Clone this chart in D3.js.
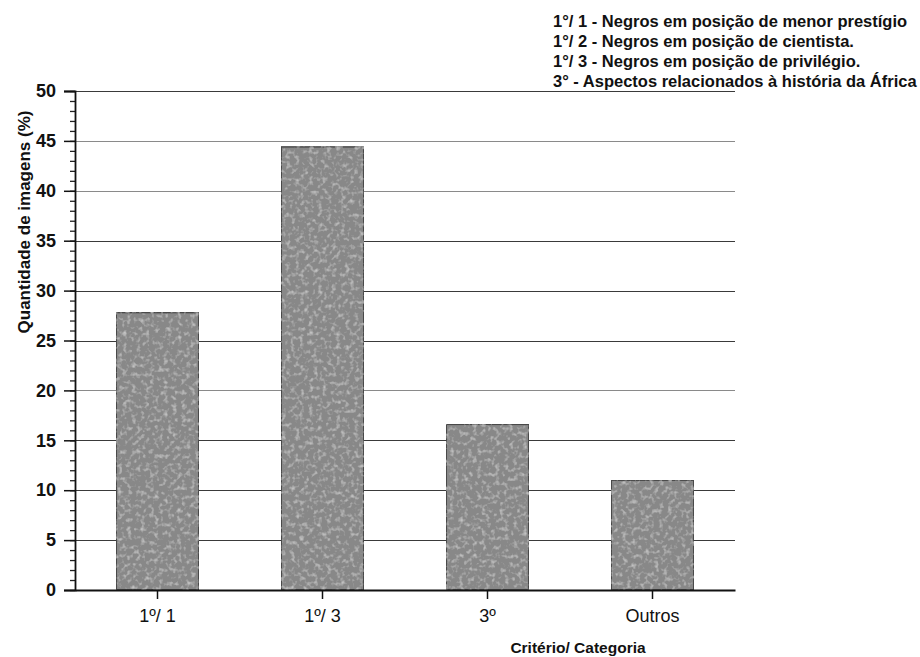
<!DOCTYPE html>
<html>
<head>
<meta charset="utf-8">
<script src="https://cdn.jsdelivr.net/npm/d3@7"></script>
<style>
  html, body { margin: 0; padding: 0; background: #fff; }
  svg { display: block; font-family: "Liberation Sans", Arial, sans-serif; }
</style>
</head>
<body>
<svg id="chart" width="920" height="657"></svg>
<script>
// Categories and their share of images (%)
const categories = ["1º/ 1", "1º/ 3", "3º", "Outros"];
const values = [27.8, 44.4, 16.6, 11.0];
const yTicks = [0, 5, 10, 15, 20, 25, 30, 35, 40, 45, 50];
const legendLines = [
  "1°/ 1 - Negros em posição de menor prestígio",
  "1°/ 2 - Negros em posição de cientista.",
  "1°/ 3 - Negros em posição de privilégio.",
  "3° - Aspectos relacionados à história da África"
];

const svg = d3.select("#chart");
const plot = { left: 75, right: 735, top: 91, bottom: 590 };

const x = d3.scaleBand().domain(categories).range([plot.left, plot.right])
  .paddingInner(0.5).paddingOuter(0.25);
const y = d3.scaleLinear().domain([0, 50]).range([plot.bottom, plot.top]);

// mottled grey texture for the bars
const defs = svg.append("defs");
const f = defs.append("filter").attr("id", "speckle")
  .attr("x", 0).attr("y", 0).attr("width", 1).attr("height", 1);
f.append("feTurbulence").attr("type", "fractalNoise")
  .attr("baseFrequency", 0.22).attr("numOctaves", 2).attr("seed", 7).attr("result", "noise");
f.append("feColorMatrix").attr("in", "noise").attr("type", "matrix")
  .attr("values", "0 0 0 0 0.66  0 0 0 0 0.66  0 0 0 0 0.66  0 0 0 1.8 -0.9")
  .attr("result", "spots");
f.append("feComposite").attr("in", "spots").attr("in2", "SourceGraphic")
  .attr("operator", "in").attr("result", "spotsIn");
f.append("feMerge").selectAll("feMergeNode")
  .data(["SourceGraphic", "spotsIn"]).join("feMergeNode").attr("in", d => d);

// horizontal gridlines
svg.append("g").selectAll("line")
  .data(yTicks.filter(d => d > 0))
  .join("line")
  .attr("x1", plot.left).attr("x2", plot.right)
  .attr("y1", d => Math.round(y(d)) + 0.5).attr("y2", d => Math.round(y(d)) + 0.5)
  .attr("stroke", d => (d === 45 || d === 40 || d === 20) ? "#8a8a8a" : "#3a3a3a")
  .attr("stroke-width", 1.2);

// bars
svg.append("g").selectAll("rect")
  .data(values)
  .join("rect")
  .attr("x", (d, i) => x(categories[i]))
  .attr("y", d => y(d))
  .attr("width", x.bandwidth())
  .attr("height", d => y(0) - y(d))
  .attr("fill", "#888888")
  .attr("stroke", "#4a4a4a")
  .attr("stroke-width", 1.5)
  .attr("filter", "url(#speckle)");

// y axis with minor ticks
const yAxisG = svg.append("g").attr("transform", `translate(${plot.left},0)`);
yAxisG.append("g")
  .call(d3.axisLeft(y).tickValues(d3.range(0, 51, 1)).tickSize(5).tickFormat(""))
  .call(g => g.select(".domain").remove())
  .selectAll("line").attr("stroke", "#222").attr("stroke-width", 1.3);
yAxisG.append("g")
  .call(d3.axisLeft(y).tickValues(yTicks).tickSize(11).tickPadding(8).tickFormat(d3.format("d")))
  .call(g => g.select(".domain").attr("stroke", "#111").attr("stroke-width", 1.8))
  .call(g => g.selectAll("line").attr("stroke", "#111").attr("stroke-width", 1.5))
  .call(g => g.selectAll("text")
    .attr("font-size", 18).attr("font-weight", "bold").attr("fill", "#111")
    .attr("font-family", "Liberation Sans, Arial, sans-serif"));

// x axis
svg.append("g").attr("transform", `translate(0,${plot.bottom})`)
  .call(d3.axisBottom(x).tickSize(9).tickSizeOuter(0).tickPadding(10))
  .call(g => g.select(".domain").attr("stroke", "#111").attr("stroke-width", 1.8))
  .call(g => g.selectAll("line").attr("stroke", "#111").attr("stroke-width", 1.5))
  .call(g => g.selectAll("text")
    .attr("font-size", 18).attr("fill", "#111")
    .attr("font-family", "Liberation Sans, Arial, sans-serif"));

// axis titles
svg.append("text")
  .attr("transform", "translate(30,222) rotate(-90)")
  .attr("text-anchor", "middle")
  .attr("font-size", 17).attr("font-weight", "bold").attr("fill", "#111")
  .text("Quantidade de imagens (%)");

svg.append("text")
  .attr("x", 578).attr("y", 653)
  .attr("text-anchor", "middle")
  .attr("font-size", 15.5).attr("font-weight", "bold").attr("fill", "#111")
  .text("Critério/ Categoria");

// legend text
svg.append("g").selectAll("text")
  .data(legendLines)
  .join("text")
  .attr("x", 553).attr("y", (d, i) => 27 + i * 20)
  .attr("font-size", 16.5).attr("font-weight", "bold").attr("fill", "#111")
  .text(d => d);
</script>
</body>
</html>
